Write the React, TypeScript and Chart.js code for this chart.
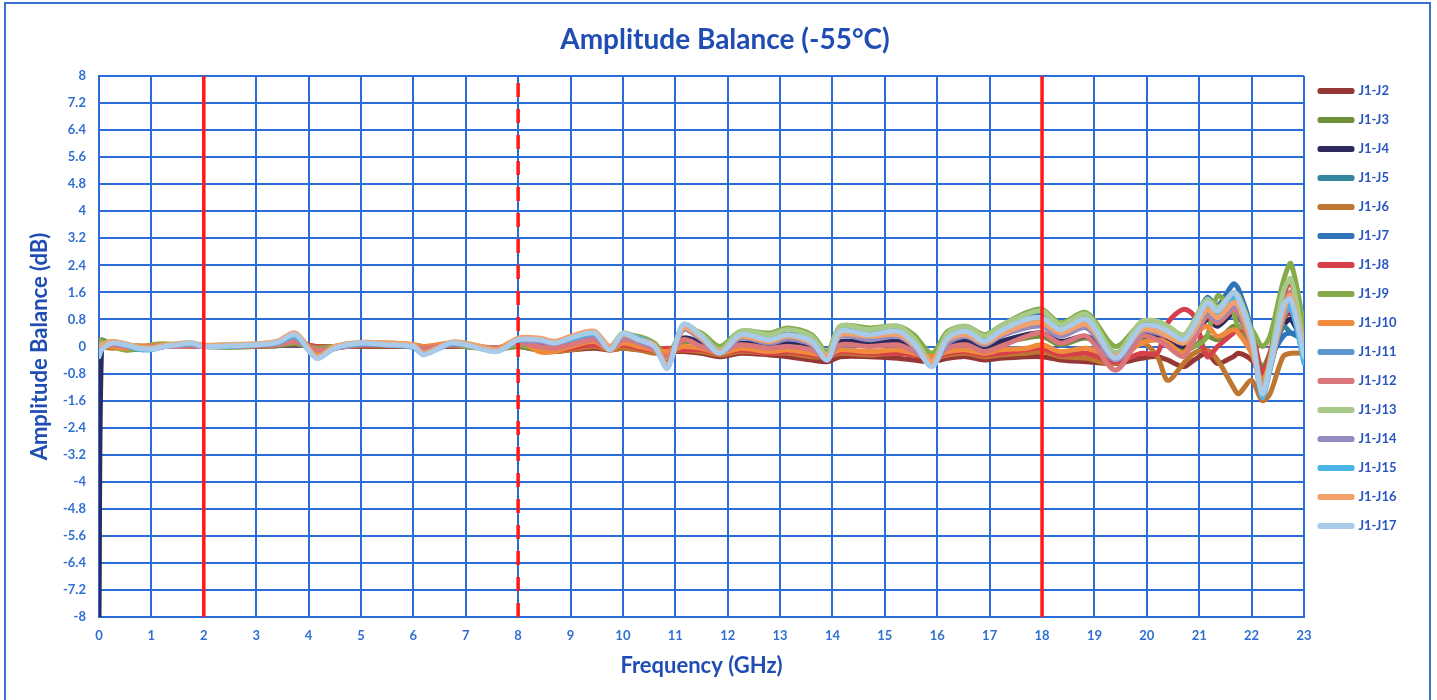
import React, { useEffect, useRef } from 'react';
import { Chart, registerables } from 'chart.js';
Chart.register(...registerables);

// Frequency grid (GHz)
const freqs = [0, 0.05, 0.25, 0.5, 0.75, 1, 1.25, 1.5, 1.75, 2,
  2.5, 3, 3.4, 3.75, 4.15, 4.5, 5, 5.5, 6, 6.2,
  6.7, 7, 7.6, 8, 8.4, 8.7, 9, 9.45, 9.75, 10,
  10.3, 10.6, 10.85, 11.15, 11.5, 11.85, 12.25, 12.8, 13.15, 13.6,
  13.9, 14.15, 14.7, 15.25, 15.55, 15.9, 16.2, 16.55, 16.9, 17.2,
  17.7, 18, 18.35, 18.85, 19.4, 19.9, 20.2, 20.4, 20.7, 20.9,
  21.15, 21.35, 21.65, 21.75, 22, 22.2, 22.35, 22.6, 22.75, 23];

const seriesNames = ['J1-J2', 'J1-J3', 'J1-J4', 'J1-J5', 'J1-J6', 'J1-J7', 'J1-J8', 'J1-J9',
  'J1-J10', 'J1-J11', 'J1-J12', 'J1-J13', 'J1-J14', 'J1-J15', 'J1-J16', 'J1-J17'];

const seriesColors = ['#953735', '#6f8f3a', '#2e2a5e', '#31859c', '#bf7630', '#2f74b8', '#d6404a', '#86ab4a',
  '#f08a3c', '#5d96cc', '#da777d', '#a7c98a', '#958bc0', '#4ab4e4', '#f4a06a', '#a9cbe9'];

const j1j2 = [0.0, 0.0, 0.0, -0.02, 0.0, 0.0, 0.0, 0.0, 0.0, 0.0,
  0.0, 0.0, 0.02, 0.05, 0.0, 0.0, 0.0, 0.0, 0.0, 0.0,
  0.0, 0.0, -0.05, 0.0, -0.1, -0.15, -0.1, -0.05, -0.1, -0.05,
  -0.1, -0.15, -0.15, -0.15, -0.2, -0.3, -0.2, -0.25, -0.3, -0.4,
  -0.45, -0.3, -0.3, -0.35, -0.4, -0.45, -0.35, -0.3, -0.4, -0.35,
  -0.3, -0.3, -0.4, -0.45, -0.5, -0.35, -0.3, -0.4, -0.6, -0.4,
  -0.2, -0.5, -0.3, -0.2, -0.4, -0.9, -0.6, 0.8, 1.0, -0.3];
const j1j3 = [0.15, 0.2, 0.05, -0.1, -0.08, 0.0, 0.05, 0.02, 0.02, 0.0,
  -0.02, 0.0, 0.02, 0.08, -0.05, -0.02, 0.02, 0.02, 0.02, -0.02,
  0.02, 0.0, -0.08, 0.0, -0.1, -0.05, 0.0, 0.15, -0.05, 0.15,
  0.1, 0.0, -0.1, 0.15, 0.05, -0.1, 0.05, 0.0, 0.1, -0.05,
  -0.15, 0.1, 0.05, 0.1, -0.05, -0.25, 0.0, 0.1, -0.05, 0.1,
  0.25, 0.3, 0.05, 0.25, -0.2, 0.25, 0.2, 0.1, -0.1, 0.0,
  0.3, 0.2, 0.6, 0.5, 0.1, -0.6, -0.2, 1.0, 1.3, 0.1];
const j1j4 = [-8, 0.0, 0.05, 0.0, -0.02, 0.0, 0.02, 0.0, 0.02, 0.0,
  0.0, 0.02, 0.05, 0.15, -0.1, -0.02, 0.05, 0.05, 0.02, -0.05,
  0.05, 0.02, -0.05, 0.1, 0.05, 0.0, 0.08, 0.2, -0.05, 0.2,
  0.1, 0.0, -0.2, 0.25, 0.1, -0.1, 0.1, 0.05, 0.15, 0.0,
  -0.2, 0.15, 0.1, 0.15, 0.0, -0.3, 0.05, 0.15, 0.0, 0.15,
  0.35, 0.4, 0.15, 0.3, -0.2, 0.3, 0.3, 0.2, 0.0, 0.3,
  0.8, 0.6, 1.0, 0.9, 0.2, -0.8, -0.3, 0.6, 0.8, 0.0];
const j1j5 = [-0.2, 0.0, 0.1, 0.02, -0.05, -0.05, 0.0, 0.04, 0.06, 0.0,
  0.0, 0.04, 0.08, 0.28, -0.28, -0.05, 0.06, 0.04, 0.0, -0.18,
  0.06, 0.04, -0.1, 0.15, 0.15, 0.08, 0.2, 0.32, -0.05, 0.3,
  0.18, 0.0, -0.5, 0.5, 0.25, -0.15, 0.3, 0.18, 0.3, 0.12,
  -0.3, 0.4, 0.3, 0.4, 0.1, -0.5, 0.2, 0.4, 0.12, 0.4,
  0.75, 0.8, 0.45, 0.75, -0.3, 0.55, 0.55, 0.4, 0.2, 0.5,
  1.1, 0.9, 1.4, 1.3, 0.2, -1.3, -0.5, 0.6, 0.4, 0.2];
const j1j6 = [0.05, 0.0, -0.05, 0.0, 0.02, 0.0, 0.0, 0.02, 0.0, 0.0,
  0.0, 0.02, 0.05, 0.1, 0.0, 0.0, 0.02, 0.02, 0.02, 0.0,
  0.02, 0.0, -0.05, 0.05, -0.1, -0.15, -0.1, 0.0, -0.1, -0.05,
  -0.1, -0.2, -0.15, -0.1, -0.15, -0.25, -0.15, -0.2, -0.2, -0.3,
  -0.3, -0.2, -0.25, -0.2, -0.25, -0.35, -0.25, -0.2, -0.3, -0.25,
  -0.2, -0.15, -0.3, -0.35, -0.5, 0.1, -0.3, -1.0, -0.5, -0.2,
  -0.1, -0.4, -1.2, -1.4, -1.0, -1.6, -1.4, -0.3, -0.2, -0.2];
const j1j7 = [-0.1, 0.05, 0.1, 0.0, -0.05, -0.05, 0.0, 0.05, 0.08, 0.0,
  0.02, 0.05, 0.1, 0.3, -0.3, -0.05, 0.08, 0.05, 0.0, -0.2,
  0.08, 0.05, -0.1, 0.2, 0.2, 0.12, 0.25, 0.38, -0.05, 0.35,
  0.22, 0.05, -0.5, 0.6, 0.3, -0.1, 0.38, 0.25, 0.4, 0.2,
  -0.3, 0.5, 0.4, 0.5, 0.2, -0.5, 0.3, 0.5, 0.2, 0.5,
  0.9, 0.95, 0.6, 0.9, -0.2, 0.7, 0.75, 0.55, 0.3, 0.7,
  1.45, 1.2, 1.85, 1.7, 0.5, -1.1, -0.4, 0.3, 0.4, 0.3];
const j1j8 = [0.0, 0.05, 0.0, -0.05, 0.0, 0.0, 0.02, 0.0, 0.02, 0.0,
  0.0, 0.02, 0.05, 0.1, 0.0, -0.02, 0.02, 0.05, 0.02, 0.0,
  0.02, 0.0, -0.05, 0.1, -0.05, -0.1, -0.05, 0.05, -0.05, 0.05,
  -0.05, -0.1, -0.05, -0.1, -0.1, -0.2, -0.1, -0.2, -0.15, -0.25,
  -0.3, -0.15, -0.2, -0.2, -0.25, -0.35, -0.2, -0.15, -0.25, -0.2,
  -0.1, -0.05, -0.25, -0.2, -0.45, -0.2, -0.2, 0.7, 1.1, 0.9,
  -0.3, 0.0, 0.4, 0.5, 0.4, -0.8, -0.2, 1.5, 1.9, 0.2];
const j1j9 = [0.2, 0.15, 0.0, -0.1, -0.05, 0.05, 0.08, 0.05, 0.05, 0.0,
  0.0, 0.02, 0.05, 0.1, -0.05, 0.0, 0.05, 0.05, 0.05, 0.0,
  0.05, 0.0, -0.1, 0.05, -0.05, 0.0, 0.1, 0.3, 0.0, 0.3,
  0.3, 0.1, -0.3, 0.5, 0.4, 0.0, 0.45, 0.4, 0.55, 0.35,
  -0.15, 0.6, 0.55, 0.6, 0.35, -0.2, 0.45, 0.6, 0.35, 0.6,
  1.0, 1.1, 0.7, 1.0, 0.0, 0.7, 0.7, 0.5, 0.2, 0.0,
  0.3, 1.5, 1.0, 0.6, 0.5, 0.0, 0.3, 1.9, 2.45, 0.6];
const j1j10 = [0.1, 0.05, 0.0, -0.05, 0.0, 0.02, 0.05, 0.02, 0.05, 0.0,
  0.02, 0.05, 0.1, 0.35, -0.2, 0.0, 0.08, 0.1, 0.05, 0.0,
  0.1, 0.08, -0.05, 0.2, -0.15, -0.15, 0.0, 0.15, -0.1, 0.1,
  0.0, -0.1, -0.15, 0.0, -0.05, -0.2, -0.05, -0.15, -0.1, -0.2,
  -0.25, -0.1, -0.15, -0.1, -0.2, -0.3, -0.15, -0.1, -0.2, -0.1,
  -0.05, 0.05, -0.15, -0.05, -0.3, 0.1, 0.2, 0.1, -0.2, 0.3,
  0.6, 0.3, 0.5, 0.4, -0.2, -1.0, -0.5, 0.8, 1.2, -0.1];
const j1j11 = [-0.28, -0.08, 0.1, 0.04, -0.06, -0.08, 0.0, 0.05, 0.08, 0.0,
  0.02, 0.05, 0.1, 0.32, -0.32, -0.05, 0.08, 0.05, 0.0, -0.22,
  0.1, 0.05, -0.12, 0.18, 0.18, 0.1, 0.22, 0.36, -0.08, 0.35,
  0.2, 0.0, -0.6, 0.6, 0.28, -0.18, 0.32, 0.2, 0.32, 0.15,
  -0.35, 0.42, 0.32, 0.42, 0.1, -0.55, 0.22, 0.42, 0.15, 0.42,
  0.75, 0.8, 0.48, 0.75, -0.3, 0.6, 0.6, 0.45, 0.25, 0.6,
  1.25, 1.0, 1.45, 1.35, 0.25, -1.35, -0.6, 1.1, 1.3, -0.4];
const j1j12 = [-0.1, 0.0, 0.05, 0.0, -0.05, 0.0, 0.02, 0.0, 0.02, 0.0,
  0.0, 0.02, 0.05, 0.15, -0.1, -0.05, 0.05, 0.05, 0.0, -0.05,
  0.05, 0.05, -0.05, 0.1, 0.0, -0.05, 0.05, 0.2, -0.1, 0.2,
  0.1, -0.1, -0.3, 0.2, 0.0, -0.15, 0.05, -0.05, 0.0, -0.1,
  -0.3, 0.05, 0.0, 0.05, -0.15, -0.4, -0.05, 0.05, -0.15, 0.0,
  0.3, 0.4, 0.1, 0.3, -0.7, 0.3, 0.2, 0.0, -0.3, 0.2,
  0.9, 0.7, 1.1, 1.0, 0.0, -1.2, -0.5, 1.2, 1.6, -0.2];
const j1j13 = [-0.15, 0.05, 0.15, 0.08, -0.02, -0.04, 0.04, 0.08, 0.12, 0.04,
  0.06, 0.08, 0.15, 0.38, -0.3, 0.0, 0.12, 0.1, 0.04, -0.2,
  0.12, 0.1, -0.1, 0.22, 0.22, 0.15, 0.28, 0.42, -0.02, 0.4,
  0.25, 0.05, -0.6, 0.65, 0.35, -0.1, 0.45, 0.35, 0.5, 0.3,
  -0.25, 0.6, 0.5, 0.6, 0.25, -0.45, 0.4, 0.6, 0.3, 0.6,
  0.95, 1.05, 0.65, 0.95, -0.2, 0.75, 0.75, 0.6, 0.35, 0.75,
  1.4, 1.15, 1.6, 1.5, 0.4, -1.3, -0.4, 1.6, 2.0, 0.0];
const j1j14 = [-0.2, -0.05, 0.08, 0.02, -0.06, -0.06, 0.0, 0.04, 0.06, 0.0,
  0.02, 0.04, 0.1, 0.28, -0.3, -0.06, 0.06, 0.04, -0.02, -0.2,
  0.06, 0.04, -0.12, 0.15, 0.15, 0.08, 0.2, 0.32, -0.05, 0.3,
  0.15, -0.02, -0.55, 0.5, 0.2, -0.2, 0.25, 0.1, 0.22, 0.05,
  -0.4, 0.3, 0.2, 0.3, 0.0, -0.55, 0.1, 0.3, 0.05, 0.3,
  0.55, 0.6, 0.3, 0.55, -0.4, 0.45, 0.4, 0.3, 0.1, 0.4,
  1.0, 0.8, 1.2, 1.1, 0.1, -1.3, -0.7, 0.9, 1.1, -0.3];
const j1j15 = [-0.25, -0.05, 0.12, 0.05, -0.08, -0.1, 0.0, 0.06, 0.08, 0.02,
  0.0, 0.06, 0.1, 0.3, -0.3, -0.05, 0.08, 0.06, -0.02, -0.22,
  0.08, 0.06, -0.12, 0.18, 0.22, 0.12, 0.22, 0.38, -0.05, 0.35,
  0.25, 0.05, -0.6, 0.6, 0.28, -0.15, 0.3, 0.18, 0.3, 0.12,
  -0.35, 0.4, 0.3, 0.4, 0.08, -0.55, 0.2, 0.4, 0.12, 0.4,
  0.7, 0.75, 0.45, 0.7, -0.3, 0.55, 0.5, 0.4, 0.15, 0.5,
  1.2, 0.95, 1.4, 1.3, 0.2, -1.5, -0.7, 1.0, 1.2, -0.5];
const j1j16 = [-0.2, 0.0, 0.15, 0.08, -0.02, -0.05, 0.02, 0.08, 0.1, 0.03,
  0.05, 0.08, 0.15, 0.4, -0.3, 0.0, 0.12, 0.1, 0.05, -0.2,
  0.12, 0.1, -0.1, 0.25, 0.25, 0.15, 0.3, 0.45, 0.0, 0.35,
  0.2, 0.05, -0.55, 0.55, 0.25, -0.15, 0.3, 0.15, 0.3, 0.1,
  -0.3, 0.35, 0.3, 0.35, 0.05, -0.45, 0.2, 0.35, 0.1, 0.35,
  0.65, 0.7, 0.4, 0.65, -0.3, 0.5, 0.45, 0.3, 0.1, 0.45,
  1.1, 0.85, 1.3, 1.2, 0.1, -1.35, -0.6, 1.0, 1.5, -0.2];
const j1j17 = [-0.3, -0.1, 0.1, 0.05, -0.05, -0.08, 0.0, 0.05, 0.1, 0.0,
  0.02, 0.05, 0.12, 0.35, -0.35, -0.05, 0.1, 0.05, 0.0, -0.25,
  0.1, 0.05, -0.15, 0.2, 0.2, 0.1, 0.25, 0.4, -0.1, 0.38,
  0.2, 0.0, -0.65, 0.65, 0.3, -0.2, 0.35, 0.2, 0.35, 0.15,
  -0.4, 0.45, 0.35, 0.45, 0.1, -0.6, 0.25, 0.45, 0.15, 0.45,
  0.8, 0.85, 0.5, 0.8, -0.35, 0.6, 0.6, 0.45, 0.2, 0.6,
  1.3, 1.05, 1.6, 1.4, 0.3, -1.4, -0.6, 1.2, 1.4, -0.3];

const seriesValues = [j1j2, j1j3, j1j4, j1j5, j1j6, j1j7, j1j8, j1j9,
  j1j10, j1j11, j1j12, j1j13, j1j14, j1j15, j1j16, j1j17];

// Band marker frequencies (GHz)
const markerFreqs = [2, 8, 18];
const markerDashed = [false, true, false];

const xMin = 0;
const xMax = 23;
const yMin = -8;
const yMax = 8;
const yStep = 0.8;

const FONT = 'Lato, "Open Sans", "DejaVu Sans", sans-serif';
const GRID = '#2a6cd8';
const TICK = '#2f6fd2';
const TITLE = '#1f4db3';

export default function App() {
  const ref = useRef<HTMLCanvasElement>(null);

  useEffect(() => {
    if (!ref.current) return;
    const n = seriesValues.length;
    const lineSets: any[] = seriesValues.map((vals, i) => ({
      label: seriesNames[i],
      data: vals.map((v, k) => ({ x: freqs[k], y: v })),
      borderColor: seriesColors[i],
      backgroundColor: seriesColors[i],
      borderWidth: 5,
      pointRadius: 0,
      tension: 0.3,
      borderCapStyle: 'round',
      borderJoinStyle: 'round',
      order: n - i,
    }));
    const markerSets: any[] = markerFreqs.map((f, i) => ({
      label: '',
      data: [{ x: f, y: yMin }, { x: f, y: yMax }],
      borderColor: '#ff1a1a',
      backgroundColor: '#ff1a1a',
      borderWidth: 3.5,
      borderDash: markerDashed[i] ? [14, 12] : [],
      pointRadius: 0,
      order: -1,
    }));

    const chart = new Chart(ref.current, {
      type: 'line',
      data: { datasets: [...lineSets, ...markerSets] },
      options: {
        animation: false,
        responsive: false,
        devicePixelRatio: 1,
        layout: { padding: { left: 50, right: 37, top: 0, bottom: 0 } },
        plugins: {
          tooltip: { enabled: false },
          title: {
            display: true,
            text: 'Amplitude Balance (-55°C)',
            color: TITLE,
            font: { family: FONT, size: 28, weight: 'bold' },
            padding: { top: 23, bottom: 19.4 },
          },
          legend: {
            position: 'right',
            align: 'start',
            maxWidth: 96,
            title: { display: true, text: '', font: { size: 10 }, padding: { top: 56.5, bottom: 0 } },
            labels: {
              boxWidth: 32,
              boxHeight: 1,
              padding: 16,
              color: '#2a55c0',
              font: { family: FONT, size: 13, weight: 'bold' },
              filter: (item: any) => item.text !== '',
              sort: (a: any, b: any) => a.datasetIndex - b.datasetIndex,
            },
          },
        },
        scales: {
          x: {
            type: 'linear',
            min: xMin,
            max: xMax,
            afterFit: (s: any) => { s.height = 83; },
            ticks: {
              stepSize: 1,
              autoSkip: false,
              maxRotation: 0,
              padding: 11,
              color: TICK,
              font: { family: FONT, size: 13, weight: 'bold' },
            },
            grid: { color: GRID, lineWidth: 2, drawTicks: false },
            border: { color: GRID, width: 2 },
            title: {
              display: true,
              text: 'Frequency (GHz)',
              color: TITLE,
              font: { family: FONT, size: 22, weight: 'bold' },
              padding: { top: 0, bottom: 21 },
            },
          },
          y: {
            type: 'linear',
            min: yMin,
            max: yMax,
            afterFit: (s: any) => { s.width = 49; },
            ticks: {
              stepSize: yStep,
              autoSkip: false,
              padding: 13,
              color: TICK,
              font: { family: FONT, size: 13, weight: 'bold' },
              callback: (v: any) => String(Number(Number(v).toFixed(1))),
            },
            grid: { color: GRID, lineWidth: 2, drawTicks: false },
            border: { color: GRID, width: 2 },
            title: {
              display: true,
              text: 'Amplitude Balance (dB)',
              color: TITLE,
              font: { family: FONT, size: 22, weight: 'bold' },
              padding: { top: -23, bottom: 0 },
            },
          },
        },
      },
    });
    return () => chart.destroy();
  }, []);

  return (
    <div style={{ position: 'fixed', left: 0, top: 0, width: 1437, height: 700, background: '#fff', overflow: 'hidden' }}>
      <canvas ref={ref} width={1437} height={700} style={{ position: 'absolute', left: 0, top: 0, width: 1437, height: 700 }} />
      <div style={{ position: 'absolute', left: 4, top: 2, width: 1427, height: 720, border: '2px solid #3b6fd1', boxSizing: 'border-box', pointerEvents: 'none' }} />
    </div>
  );
}
